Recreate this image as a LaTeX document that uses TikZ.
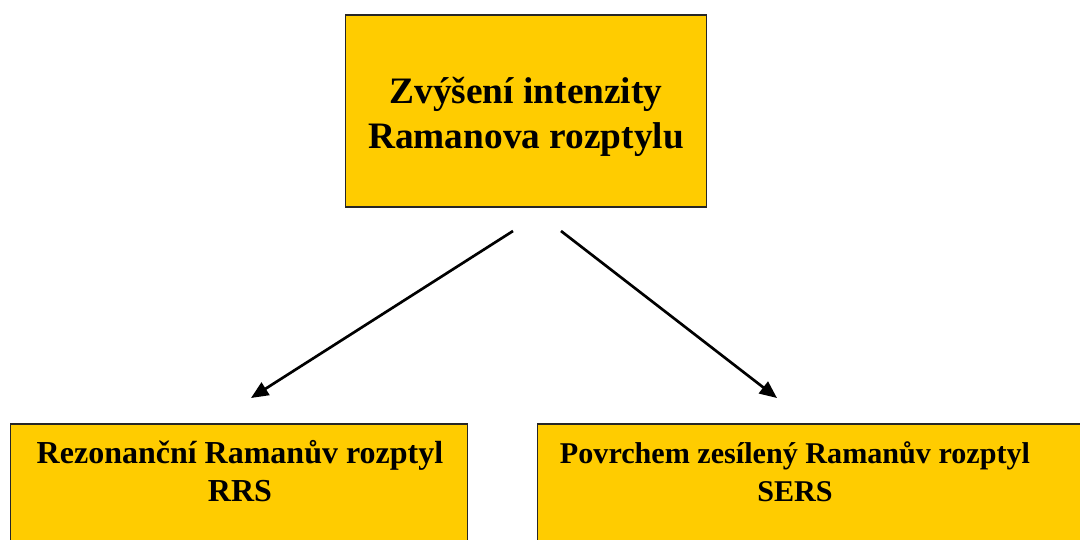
\documentclass[tikz,border=0pt]{standalone}
\usepackage{fontspec}
\setmainfont{Liberation Serif}
\usetikzlibrary{arrows.meta}
\definecolor{boxfill}{HTML}{FFCC00}
\tikzset{
  box/.style={draw=black!85, line width=1.2pt, fill=boxfill, rectangle, inner sep=0pt},
  toplabel/.style={align=center, font=\bfseries\fontsize{28}{34}\selectfont, inner sep=0pt},
  rrslabel/.style={align=center, font=\bfseries\fontsize{24}{28.5}\selectfont, inner sep=0pt},
  serslabel/.style={align=center, font=\bfseries\fontsize{22.6}{28.5}\selectfont, inner sep=0pt},
  arr/.style={line width=2pt, -{Triangle[length=13pt,width=11pt]}}
}
\begin{document}
\begin{tikzpicture}[x=0.75pt,y=-0.75pt]
  \useasboundingbox (0,0) rectangle (1080,539);
  \clip (0,0) rectangle (1080,539);
  % boxes
  \node[box, minimum width=361*0.75pt, minimum height=192*0.75pt] (main) at (526,111) {};
  \node[box, minimum width=457*0.75pt, minimum height=200*0.75pt, anchor=north west] (rrs) at (9.5,423) {};
  \node[box, minimum width=600*0.75pt, minimum height=200*0.75pt, anchor=north west] (sers) at (536.5,423) {};
  % labels
  \node[toplabel] (mainlbl) at (526,117) {Zvýšení intenzity\\Ramanova rozptylu};
  \node[rrslabel, anchor=north] (rrslbl) at (240,440) {Rezonanční Ramanův rozptyl\\RRS};
  \node[serslabel, anchor=north] (serslbl) at (795,441) {Povrchem zesílený Ramanův rozptyl\\SERS};
  % connectors
  \coordinate (s1) at (513,231);
  \coordinate (e1) at (251,398);
  \coordinate (s2) at (561,231);
  \coordinate (e2) at (777,398);
  \draw[arr] (s1) -- (e1);
  \draw[arr] (s2) -- (e2);
\end{tikzpicture}
\end{document}
